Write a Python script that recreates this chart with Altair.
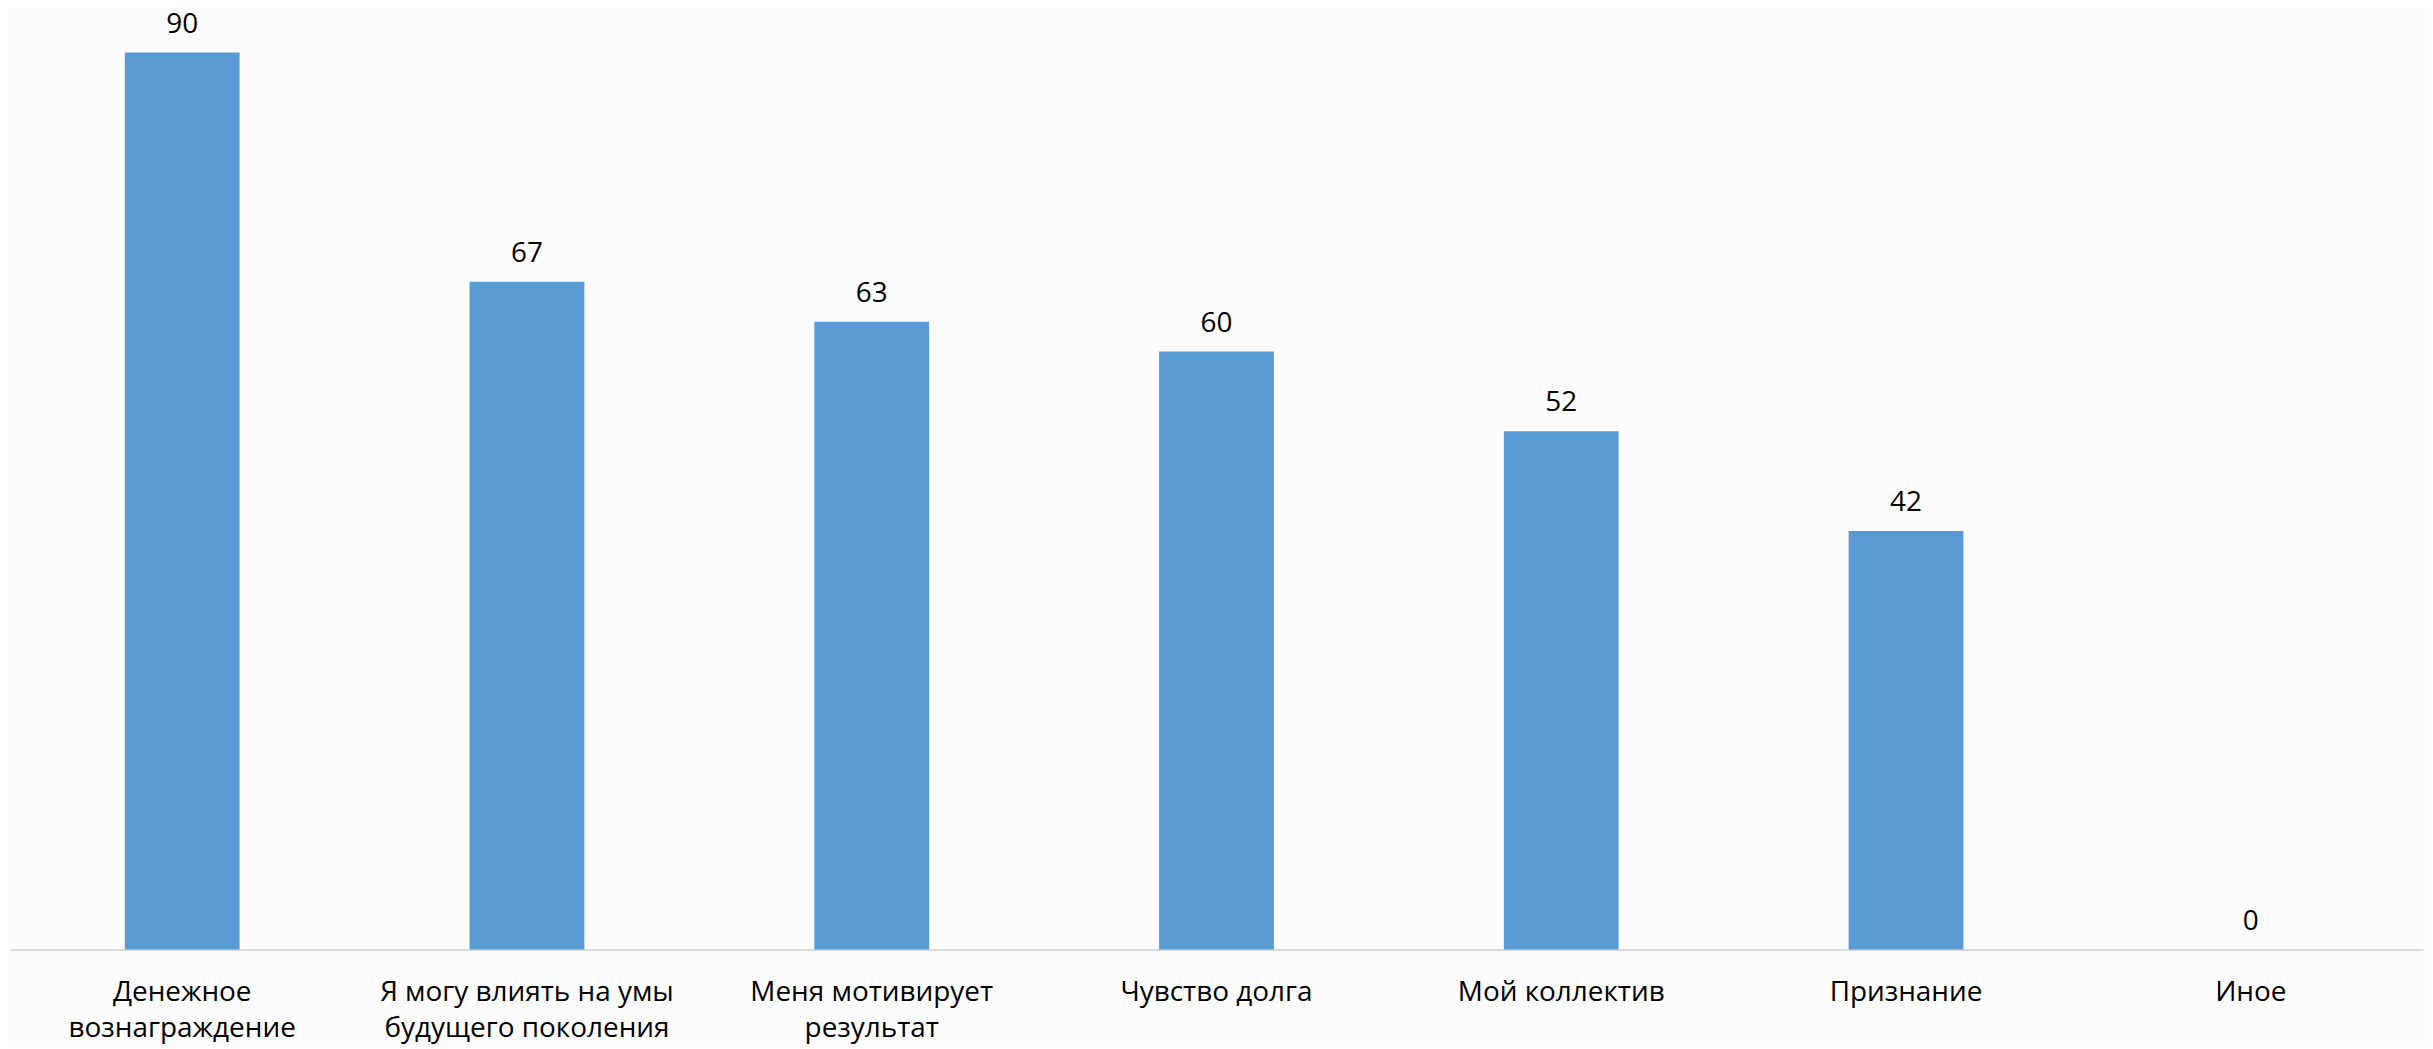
import altair as alt
import pandas as pd

categories = [
    "Денежное|вознаграждение",
    "Я могу влиять на умы|будущего поколения",
    "Меня мотивирует|результат",
    "Чувство долга",
    "Мой коллектив",
    "Признание",
    "Иное",
]
values = [90, 67, 63, 60, 52, 42, 0]

df = pd.DataFrame({"cat": categories, "val": values})

FONT = "Open Sans"

x = alt.X(
    "cat:N",
    sort=None,
    scale=alt.Scale(paddingInner=0.667, paddingOuter=0.333),
    axis=alt.Axis(
        title=None,
        labelExpr="split(datum.label, '|')",
        labelAngle=0,
        labelFont=FONT,
        labelFontSize=28,
        labelColor="#000000",
        labelBaseline="top",
        labelPadding=29,
        labelLineHeight=36,
        labelLimit=0,
        labelOverlap=False,
        ticks=False,
        domainColor="#d9d9d9",
        domainWidth=2,
    ),
)
y = alt.Y(
    "val:Q",
    scale=alt.Scale(domain=[0, 90], nice=False),
    axis=None,
)

bars = alt.Chart(df).mark_bar(color="#5B9BD5").encode(x=x, y=y)
labels = alt.Chart(df).mark_text(
    font=FONT, fontSize=28, color="#000000", baseline="alphabetic", dy=-20
).encode(x=x, y=y, text="val:Q")

chart = (
    alt.layer(bars, labels)
    .properties(
        width=2421,
        height=900,
        autosize=alt.AutoSizeParams(type="none"),
        padding={"left": 2, "top": 43, "right": 2, "bottom": 96},
        background="#fcfcfc",
    )
    .configure_view(stroke=None)
)

chart.save("out.html", embed_options={"renderer": "svg", "actions": False})
